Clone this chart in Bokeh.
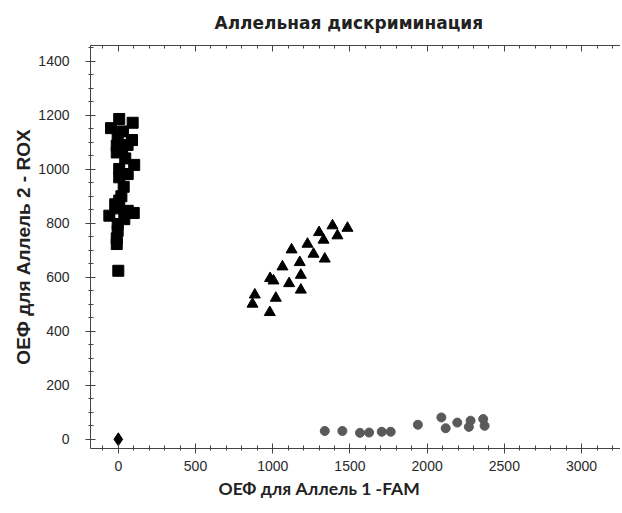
from bokeh.plotting import figure
from bokeh.models import Range1d, LinearAxis, Title, SingleIntervalTicker
from bokeh.embed import file_html
from bokeh.resources import INLINE

# Allele 2 homozygotes (squares)
sq_x = [6, 93, -47, -4, 89, -10, -10, 45, 103, 6, 61, 6, 35, 6, -10, -58, 61, 39, -4, -4, -10, -10, 0,
        30, 20, 100, -20, 25, 60]
sq_y = [1186, 1172, 1152, 1118, 1108, 1087, 1062, 1040, 1016, 1001, 982, 970, 935, 884, 855, 828, 846, 815, 797, 772, 744, 723, 624,
        1140, 900, 838, 870, 1065, 1090]

# Heterozygotes (triangles)
tr_x = [1387, 1484, 1300, 1329, 1419, 1225, 1122, 1264, 1337, 1175, 1063, 1182, 983, 1005, 1106, 1182, 1020, 884, 869, 981]
tr_y = [791, 782, 766, 738, 754, 723, 702, 686, 668, 655, 639, 608, 596, 587, 577, 553, 523, 535, 501, 470]

# Allele 1 homozygotes (circles)
ci_x = [1337, 1451, 1565, 1624, 1706, 1764, 1940, 2092, 2120, 2195, 2281, 2270, 2363, 2372]
ci_y = [31, 31, 24, 25, 28, 28, 54, 81, 41, 62, 69, 46, 75, 50]

# No template control (diamond)
ntc_x = [0]
ntc_y = [0]

title_text = "Аллельная дискриминация"
x_label = "ОЕФ для Аллель 1 -FAM"
y_label = "ОЕФ для Аллель 2 - ROX"

p = figure(width=620, height=511, output_backend="svg", toolbar_location=None,
           x_range=Range1d(-180, 3252), y_range=Range1d(-34, 1458),
           min_border_left=90, min_border_top=45, min_border_right=0, min_border_bottom=63,
           x_axis_location=None, y_axis_location=None)
p.outline_line_color = None
p.xgrid.visible = False
p.ygrid.visible = False
p.background_fill_color = "white"

p.title.text = title_text
p.title.align = "left"
p.title.offset = 124
p.title.vertical_align = "top"
p.title.text_font = "DejaVu Sans"
p.title.text_font_style = "bold"
p.title.text_font_size = "17px"
p.title.text_color = "#222222"
p.title.standoff = 22

axis_color = "#444444"
tick_font = "Liberation Sans"

xaxis = LinearAxis(ticker=SingleIntervalTicker(interval=500, num_minor_ticks=5))
xaxis.major_tick_in = 5
xaxis.major_tick_out = 5
xaxis.minor_tick_in = 3
xaxis.minor_tick_out = 2
xaxis.major_label_standoff = 7
p.add_layout(xaxis, "below")

yaxis = LinearAxis(ticker=SingleIntervalTicker(interval=200, num_minor_ticks=4),
                   axis_label=y_label)
yaxis.major_tick_in = 5
yaxis.major_tick_out = 5
yaxis.minor_tick_in = 3
yaxis.minor_tick_out = 2
yaxis.major_label_standoff = 16
yaxis.axis_label_standoff = 1
yaxis.axis_label_text_font = "Liberation Sans"
yaxis.axis_label_text_font_style = "bold"
yaxis.axis_label_text_font_size = "19px"
yaxis.axis_label_text_color = "#222222"
p.add_layout(yaxis, "left")

taxis = LinearAxis(ticker=SingleIntervalTicker(interval=500, num_minor_ticks=5))
taxis.major_tick_in = 6
taxis.major_tick_out = 0
taxis.minor_tick_in = 3
taxis.minor_tick_out = 0
taxis.major_label_text_color = None
taxis.major_label_text_font_size = "0px"
taxis.major_label_standoff = 0
p.add_layout(taxis, "above")

for ax in (xaxis, yaxis, taxis):
    ax.axis_line_color = axis_color
    ax.major_tick_line_color = axis_color
    ax.minor_tick_line_color = axis_color
for ax in (xaxis, yaxis):
    ax.major_label_text_font = tick_font
    ax.major_label_text_font_size = "14px"
    ax.major_label_text_color = "#2a2a2a"
yaxis.major_label_orientation = "horizontal"

xtitle = Title(text=x_label, align="left", offset=128,
               text_font="Lato", text_font_style="bold", text_font_size="17.5px",
               text_color="#222222", standoff=4)
p.add_layout(xtitle, "below")

p.scatter(sq_x, sq_y, marker="square", size=11, color="black")
p.scatter(tr_x, tr_y, marker="triangle", size=11, color="black")
p.scatter(ci_x, ci_y, marker="circle", size=9, color="#5a5a5a")
p.scatter(ntc_x, ntc_y, marker="diamond", size=13, color="black")

open("out.html", "w").write(file_html(p, INLINE))
